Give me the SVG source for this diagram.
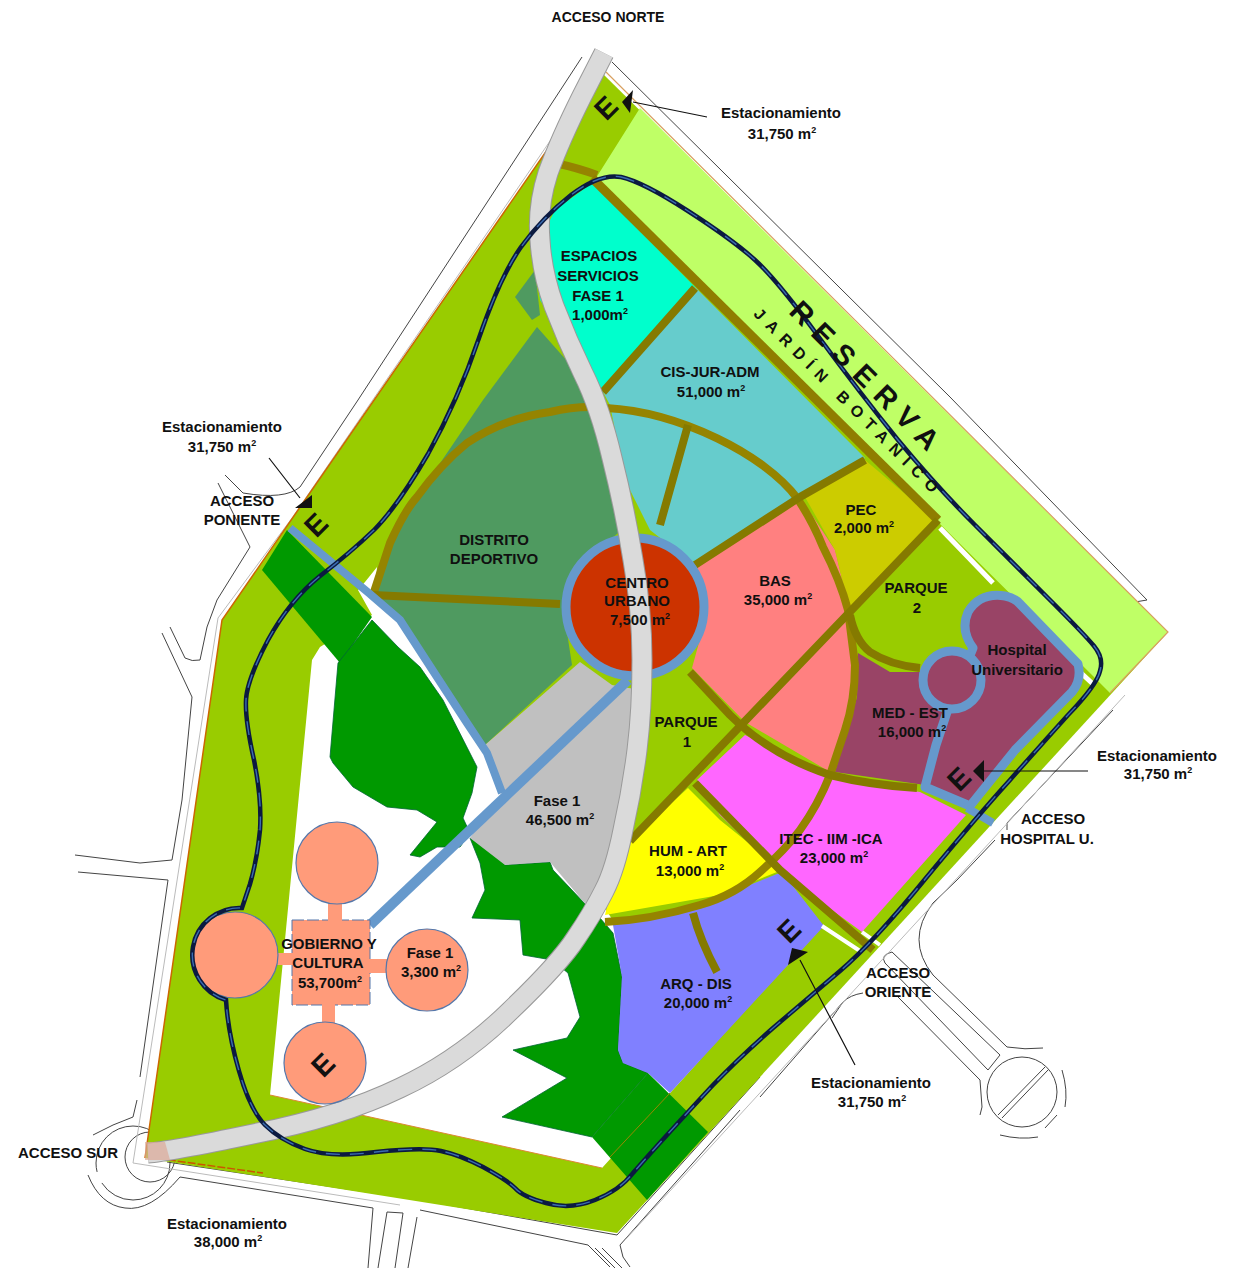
<svg xmlns="http://www.w3.org/2000/svg" width="1241" height="1268" viewBox="0 0 1241 1268">
<defs><style>
.t{font-family:"Liberation Sans",Arial,sans-serif;font-weight:bold;font-size:15px;text-anchor:middle;fill:#101010}
.o{fill:none;stroke:#857a00;stroke-width:8;stroke-linejoin:round}
.b{fill:none;stroke:#6699cc}
.r{fill:none;stroke:#444;stroke-width:1}
.l{fill:none;stroke:#bbb;stroke-width:1}
.a{stroke:#111;stroke-width:1.2;fill:none}
.e{font-family:"Liberation Sans",Arial,sans-serif;font-weight:bold;font-size:29px;text-anchor:middle;fill:#111}
.c{fill:#ff9b7a;stroke:#5577aa;stroke-width:1.2}
.s{font-size:9px}
</style>
<path id="cir" fill="none" d="M621 177Q643 182 688 211Q733 240 755 260Q777 280 818 336Q860 393 898 440Q937 487 975 525Q1013 563 1049 599Q1085 635 1094 646Q1104 658 1100 671Q1097 685 1068 715Q1040 746 1010 780Q980 813 926 878Q873 943 840 971Q806 1000 773 1028Q740 1057 713 1085Q687 1113 667 1135Q647 1157 633 1173Q620 1190 595 1200Q570 1210 546 1203Q523 1197 515 1188Q507 1180 483 1167Q460 1155 441 1151Q423 1147 376 1152Q330 1158 305 1149Q280 1140 265 1125Q250 1110 239 1071Q228 1033 226 1000A47 47 0 0 1 242 908L250 884Q257 860 260 830Q262 800 254 760Q245 720 246 700Q247 680 268 640Q290 600 320 576Q350 553 374 530Q397 507 428 454Q458 400 479 338Q500 277 521 247Q543 217 571 195Q600 173 621 177Z"/>
<path id="rd" fill="none" d="M604 53L582 96Q560 140 548 173Q537 207 540 240Q542 273 554 306Q567 340 583 373Q600 407 612 458Q625 510 633 560Q642 610 642 660Q642 710 637 750Q632 790 623 830Q615 870 604 891Q593 913 576 938Q560 963 510 1011Q460 1060 400 1088Q340 1117 253 1134Q167 1152 148 1153"/>
</defs>
<rect width="1241" height="1268" fill="#fff"/>
<g id="roads">
<path class="r" d="M582 57L358 400L300 487Q285 500 243 493L225 475"/>
<path class="r" d="M218 483L250 547L217 600L207 627L200 660Q192 662 185 658L170 627"/>
<path class="r" d="M162 633L192 697L182 800L172 860L140 863L75 855M168 880L78 872M168 880L140 1077M137 1100L133 1117L113 1125L93 1135"/>
<path class="r" d="M612 62L950 397L1147 600L1135 602"/>
<path class="r" d="M1113 710L1007 823V830M995 840L957 880L933 903Q905 940 933 975L1007 1047Q1025 1050 1043 1048"/>
<path class="r" d="M892 952L1000 1055L988 1070L885 963Q880 955 892 952ZM898 997L980 1080L982 1107L980 1115M843 1002Q850 995 863 993M832 1018L843 1002L760 1097"/>
<circle class="r" cx="1022" cy="1092" r="35"/>
<path class="r" d="M998 1115L1045 1067M1002 1118L1048 1070M1000 1135Q1020 1140 1038 1137M1045 1128L1057 1115M1062 1070Q1068 1090 1065 1107"/>
<circle class="r" cx="133" cy="1163" r="37" stroke-dasharray="95 12"/>
<circle class="r" cx="150" cy="1157" r="25"/>
<path class="r" d="M88 1175Q100 1205 125 1208Q150 1212 180 1177L373 1208L368 1268M387 1212L378 1268M387 1212L403 1213L395 1268M417 1217L408 1268M167 1162L420 1200L617 1235M420 1210L588 1245L610 1267M620 1245L623 1257L630 1267M620 1245L740 1110M617 1235L760 1077M595 1248L615 1268M602 1248L622 1268"/>
<path class="l" d="M600 68L292 518L218 618L133 1163L400 1205M1125 695L625 1240"/>
</g>
<g id="site">
<path fill="#99cc00" d="M601 72L1168 632L617 1233L145 1158L222 620Z"/>
<path fill="#bfff66" d="M640 108L1168 632L1110 693L1097 680L938 522L596 178Z"/>
<path fill="none" stroke="#d8a060" stroke-width="1.2" d="M606 72L1168 632L1110 693"/>
<path fill="none" stroke="#cc6600" stroke-width="1.5" d="M601 72L222 620L145 1158"/>
<path fill="none" stroke="#cc5500" stroke-width="1.5" stroke-dasharray="8 2" d="M148 1157L263 1173"/>
<path fill="#fff" d="M377 567L365 582L358 590L372 615L320 647L312 660L270 1095L602 1168L700 1060L600 900L510 800L490 755L440 680L400 620L375 595Z"/>
<path d="M270 1095L602 1168" fill="none" stroke="#dd8833" stroke-width="1"/>
<path fill="none" stroke="#fff" stroke-width="5" d="M940 528L993 583M1080 672L1094 685"/>
</g>
<g id="forest">
<path fill="#009900" d="M287 530L372 617L340 663L262 570Z"/>
<path fill="#009900" stroke="#063" stroke-width=".8" d="M338 663L372 620L398 647L420 667L443 700L477 767L472 793L463 818L470 833L460 847L437 847L420 857L410 855L437 822L417 810L387 807L353 787L333 763L330 757Z"/>
<path fill="#009900" stroke="#063" stroke-width=".8" d="M470 838L500 857L505 865L550 862L553 870L588 907L600 918L613 933L622 977L618 1050L623 1063L648 1073L592 1137L502 1117L567 1078L513 1050L567 1038L580 1017L568 973L552 960L523 955L520 920L472 918L485 890L480 863Z"/>
<path fill="#009900" d="M592 1137L648 1073L708 1132L647 1200Z"/>
<path fill="none" stroke="#998800" d="M670 1093L610 1157"/>
</g>
<g id="distrito-deportivo"><path fill="#4f9a60" d="M537 327L575 370L610 430L628 525L585 560L562 600L572 665L485 745L467 723L437 677L400 620L373 600L390 543L413 503L483 400Z"/>
<path fill="#4f9a60" d="M515 297L535 270L540 315L532 320Z"/></g>
<g id="fase1"><path fill="#c0c0c0" d="M580 662L612 685L640 690L640 760L622 850L600 918L588 907L550 862L505 865L470 838L502 793L485 745Z"/></g>
<g id="espacios"><path fill="#00ffcc" d="M592 183L695 287L603 392L570 345L540 300L535 250L555 210Z"/></g>
<g id="cis"><path fill="#66cccc" d="M603 392L695 287L865 458L800 497L695 565L650 530L625 480L610 405Z"/></g>
<g id="bas"><path fill="#ff8080" d="M695 565L800 497L835 550L850 612L745 722L692 668L708 610Z"/>
<path fill="#ff8080" d="M850 612L856 660L848 720L830 772L745 722Z"/></g>
<g id="pec"><path fill="#cccc00" d="M805 497L865 460L936 520L850 612L835 550Z"/></g>
<g id="med"><path fill="#994466" d="M858 653L890 672L925 672L950 720L925 785L835 772L857 697Z"/>
<path fill="#994466" stroke="#6699cc" stroke-width="9" stroke-linejoin="round" d="M973 648Q960 630 968 612Q980 592 1005 596Q1015 598 1020 604L1078 664Q1082 680 1072 692L1015 750L970 806L925 787L936 745L947 712Z"/>
<circle cx="952" cy="680" r="29" fill="#994466" stroke="#6699cc" stroke-width="9"/>
<path class="b" stroke-width="8" d="M967 808L993 823"/></g>
<g id="itec"><path fill="#ff66ff" d="M697 780L745 735L830 778L920 792L966 815L862 932L780 872L720 815Z"/></g>
<g id="hum"><path fill="#ffff00" d="M620 850L688 788L720 820L782 870L720 895L605 915Z"/></g>
<g id="arq"><path fill="#8080ff" d="M613 925L700 905L782 872L824 926L670 1093L648 1073L623 1063L618 1050L622 977Z"/></g>
<g id="connectors">
<path class="o" style="stroke:#958400" d="M373 595L390 543Q405 510 417 497Q440 465 467 443Q505 418 550 412Q580 405 606 408C680 412 765 455 797 498Q812 520 823 547Q840 580 848 610L855 665Q855 700 845 730L830 775Q818 805 800 830Q785 850 760 872Q735 895 700 905Q650 920 605 922"/>
<path class="o" style="stroke:#958400" d="M555 163Q578 168 597 175"/>
<path class="o" style="stroke:#8f7d00;stroke-width:9" d="M592 178L938 520"/>
<path class="o" d="M938 520L630 841M695 288L603 392M865 460L800 497M695 565L800 497M688 425L660 525M373 595L560 604"/>
<path class="o" d="M690 672L730 715Q770 755 830 775Q870 785 917 788"/>
<path class="o" d="M850 615Q855 640 870 652Q890 665 920 668M695 783L780 870L873 950M693 913Q700 940 717 972"/>
<path fill="none" stroke="#fff" stroke-width="4" d="M822 926L860 951M862 932L880 945"/>
<path class="b" stroke-width="8" d="M290 528L370 594L400 620L437 677L467 723L487 753L502 793"/>
<path class="b" stroke-width="10" d="M628 680L370 925"/>
<circle cx="635" cy="607" r="69" fill="#cc3300" stroke="#6699cc" stroke-width="9"/>
</g>
<g id="road-gray"><use href="#rd" stroke="#999" stroke-width="21"/><use href="#rd" stroke="#dadada" stroke-width="19"/>
<path fill="#ddaa99" fill-opacity=".7" d="M145 1142L165 1142L170 1160L145 1160Z"/></g>
<g id="gobierno">
<rect x="292" y="920" width="78" height="85" fill="#ff9b7a" stroke="#5577aa" stroke-dasharray="12 3"/>
<path fill="#ff9b7a" d="M328 900H342V925H328ZM275 953H297V965H275ZM365 959H390V973H365ZM322 1000H335V1025H322Z"/>
<circle class="c" cx="337" cy="863" r="41"/>
<circle class="c" cx="235" cy="955" r="43"/>
<circle class="c" cx="427" cy="970" r="41"/>
<circle class="c" cx="325" cy="1063" r="41"/>
</g>
<g id="circuit">
<use href="#cir" stroke="#0b1a40" stroke-width="4.5"/>
<use href="#cir" stroke="#3a6cb0" stroke-width="1.4" stroke-dasharray="14 10"/>
</g>
<g id="labels">
<text class="t" x="608" y="22" style="font-size:14px">ACCESO NORTE</text>
<text class="t" x="781" y="118">Estacionamiento</text><text class="t" x="782" y="139">31,750 m<tspan dy="-6" class="s">2</tspan></text>
<text class="t" x="222" y="432">Estacionamiento</text><text class="t" x="222" y="452">31,750 m<tspan dy="-6" class="s">2</tspan></text>
<text class="t" x="1157" y="761">Estacionamiento</text><text class="t" x="1158" y="779">31,750 m<tspan dy="-6" class="s">2</tspan></text>
<text class="t" x="871" y="1088">Estacionamiento</text><text class="t" x="872" y="1107">31,750 m<tspan dy="-6" class="s">2</tspan></text>
<text class="t" x="227" y="1229">Estacionamiento</text><text class="t" x="228" y="1247">38,000 m<tspan dy="-6" class="s">2</tspan></text>
<text class="t" x="242" y="506">ACCESO</text><text class="t" x="242" y="525">PONIENTE</text>
<text class="t" x="68" y="1158">ACCESO SUR</text>
<text class="t" x="1053" y="824">ACCESO</text><text class="t" x="1047" y="844">HOSPITAL U.</text>
<text class="t" x="898" y="978">ACCESO</text><text class="t" x="898" y="997">ORIENTE</text>
<text class="t" x="599" y="261">ESPACIOS</text><text class="t" x="598" y="281">SERVICIOS</text><text class="t" x="598" y="301">FASE 1</text><text class="t" x="600" y="320">1,000m<tspan dy="-6" class="s">2</tspan></text>
<text class="t" x="710" y="377">CIS-JUR-ADM</text><text class="t" x="711" y="397">51,000 m<tspan dy="-6" class="s">2</tspan></text>
<text class="t" x="494" y="545">DISTRITO</text><text class="t" x="494" y="564">DEPORTIVO</text>
<text class="t" x="637" y="588">CENTRO</text><text class="t" x="637" y="606">URBANO</text><text class="t" x="640" y="625">7,500 m<tspan dy="-6" class="s">2</tspan></text>
<text class="t" x="775" y="586">BAS</text><text class="t" x="778" y="605">35,000 m<tspan dy="-6" class="s">2</tspan></text>
<text class="t" x="861" y="515">PEC</text><text class="t" x="864" y="533">2,000 m<tspan dy="-6" class="s">2</tspan></text>
<text class="t" x="916" y="593">PARQUE</text><text class="t" x="917" y="613">2</text>
<text class="t" x="1017" y="655">Hospital</text><text class="t" x="1017" y="675">Universitario</text>
<text class="t" x="910" y="718">MED - EST</text><text class="t" x="912" y="737">16,000 m<tspan dy="-6" class="s">2</tspan></text>
<text class="t" x="686" y="727">PARQUE</text><text class="t" x="687" y="747">1</text>
<text class="t" x="557" y="806">Fase 1</text><text class="t" x="560" y="825">46,500 m<tspan dy="-6" class="s">2</tspan></text>
<text class="t" x="688" y="856">HUM - ART</text><text class="t" x="690" y="876">13,000 m<tspan dy="-6" class="s">2</tspan></text>
<text class="t" x="831" y="844">ITEC - IIM -ICA</text><text class="t" x="834" y="863">23,000 m<tspan dy="-6" class="s">2</tspan></text>
<text class="t" x="696" y="989">ARQ - DIS</text><text class="t" x="698" y="1008">20,000 m<tspan dy="-6" class="s">2</tspan></text>
<text class="t" x="329" y="949">GOBIERNO Y</text><text class="t" x="328" y="968">CULTURA</text><text class="t" x="330" y="988">53,700m<tspan dy="-6" class="s">2</tspan></text>
<text class="t" x="430" y="958">Fase 1</text><text class="t" x="431" y="977">3,300 m<tspan dy="-6" class="s">2</tspan></text>
<text class="e" transform="translate(613,115) rotate(-45)">E</text>
<text class="e" transform="translate(323,532) rotate(-45)">E</text>
<text class="e" transform="translate(966,786) rotate(-45)">E</text>
<text class="e" transform="translate(796,938) rotate(-45)">E</text>
<text class="e" transform="translate(330,1072) rotate(-45)">E</text>
<text class="t" transform="translate(861,386) rotate(45)" style="font-size:29px;letter-spacing:10px">RESERVA</text>
<text class="t" transform="translate(845,407) rotate(45)" style="font-size:16px;letter-spacing:7.5px">JARDÍN BOTANICO</text>
</g>
<g id="arrows">
<path class="a" d="M707 117L633 102M855 1065L800 960M1088 771L982 771M269 458L300 498"/>
<path fill="#111" d="M622 102L633 90L630 113ZM973 771L984 760V782ZM788 965L808 952L792 948ZM295 508L312 495V508Z"/>
</g>
</svg>
